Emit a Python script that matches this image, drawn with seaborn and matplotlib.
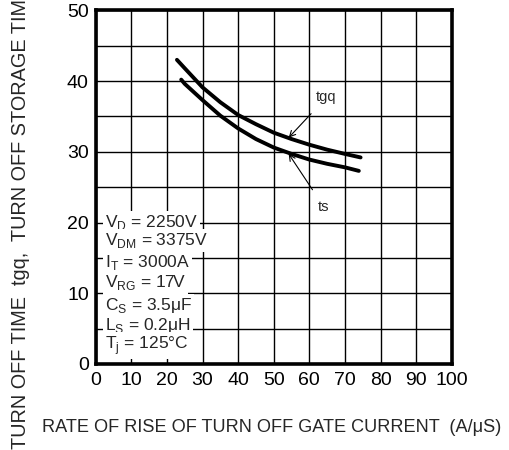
import matplotlib
matplotlib.use("Agg")
import matplotlib.pyplot as plt
import seaborn as sns
import pandas as pd

# ---- data ----
tgq_x = [22.8, 25, 30, 35, 40, 45, 50, 55, 60, 65, 70, 74.4]
tgq_y = [43.0, 41.8, 39.1, 37.0, 35.2, 33.9, 32.7, 31.8, 31.0, 30.3, 29.7, 29.2]
ts_x = [24.0, 25, 30, 35, 40, 45, 50, 55, 60, 65, 70, 73.9]
ts_y = [40.2, 39.6, 37.3, 35.1, 33.3, 31.8, 30.6, 29.7, 28.9, 28.3, 27.8, 27.3]

x_ticks = [0, 10, 20, 30, 40, 50, 60, 70, 80, 90, 100]
y_ticks = [0, 10, 20, 30, 40, 50]
y_grid = [5, 15, 25, 35, 45]

conditions = [
    r"V$_\mathregular{D}$ = 2250V",
    r"V$_\mathregular{DM}$ = 3375V",
    r"I$_\mathregular{T}$ = 3000A",
    r"V$_\mathregular{RG}$ = 17V",
    r"C$_\mathregular{S}$ = 3.5μF",
    r"L$_\mathregular{S}$ = 0.2μH",
    r"T$_\mathregular{j}$ = 125°C",
]
cond_y = [20.0, 17.4, 14.4, 11.5, 8.3, 5.5, 2.6]

xlabel = "RATE OF RISE OF TURN OFF GATE CURRENT  (A/μS)"
ylabel = "TURN OFF TIME  tgq,  TURN OFF STORAGE TIME  ts  (μs)"

sns.set_style("white")
plt.rcParams["font.family"] = ["Liberation Sans", "DejaVu Sans"]
plt.rcParams["mathtext.fontset"] = "custom"
plt.rcParams["mathtext.rm"] = "Liberation Sans"

fig = plt.figure(figsize=(5.09, 4.5), dpi=100)
ax = fig.add_axes([95.8 / 509, 1 - 364 / 450, (451.7 - 95.8) / 509, (364 - 10.3) / 450])

df_tgq = pd.DataFrame({"x": tgq_x, "y": tgq_y})
df_ts = pd.DataFrame({"x": ts_x, "y": ts_y})
sns.lineplot(data=df_tgq, x="x", y="y", ax=ax, color="black", linewidth=2.8,
             sort=False, estimator=None, zorder=4)
sns.lineplot(data=df_ts, x="x", y="y", ax=ax, color="black", linewidth=2.8,
             sort=False, estimator=None, zorder=4)

ax.set_xlim(0, 100)
ax.set_ylim(0, 50)
ax.set_xticks(x_ticks)
ax.set_yticks(y_ticks)
ax.set_yticks(y_grid, minor=True)
ax.grid(True, which="both", color="black", linewidth=1.0)
ax.set_axisbelow(True)
ax.tick_params(axis="both", which="both", length=0, labelsize=14, colors="black")
ax.tick_params(axis="x", pad=6)
ax.tick_params(axis="y", pad=5)
for s in ax.spines.values():
    s.set_visible(True)
    s.set_color("black")
    s.set_linewidth(2.6)
ax.set_xlabel("")
ax.set_ylabel("")

for txt, yy in zip(conditions, cond_y):
    ax.text(2.6, yy, txt, fontsize=12.5, ha="left", va="center", zorder=3,
            bbox=dict(boxstyle="square,pad=0.12", facecolor="white", edgecolor="none"))

ax.annotate("tgq", xy=(54.2, 32.0), xytext=(64.8, 37.7), fontsize=10.5,
            ha="center", va="center", zorder=5,
            arrowprops=dict(arrowstyle="->", color="black", lw=0.8,
                            shrinkA=6, shrinkB=0))
ax.annotate("ts", xy=(54.2, 29.7), xytext=(64.1, 22.2), fontsize=10.5,
            ha="center", va="center", zorder=5,
            arrowprops=dict(arrowstyle="->", color="black", lw=0.8,
                            shrinkA=6, shrinkB=0))

fig.text(42 / 509, 1 - 432 / 450, xlabel, fontsize=13.1, ha="left", va="baseline")
fig.text(20.5 / 509, 1 - 449 / 450, ylabel, fontsize=14.3, rotation=90,
         ha="center", va="bottom")

fig.savefig("out.png", dpi=100)
